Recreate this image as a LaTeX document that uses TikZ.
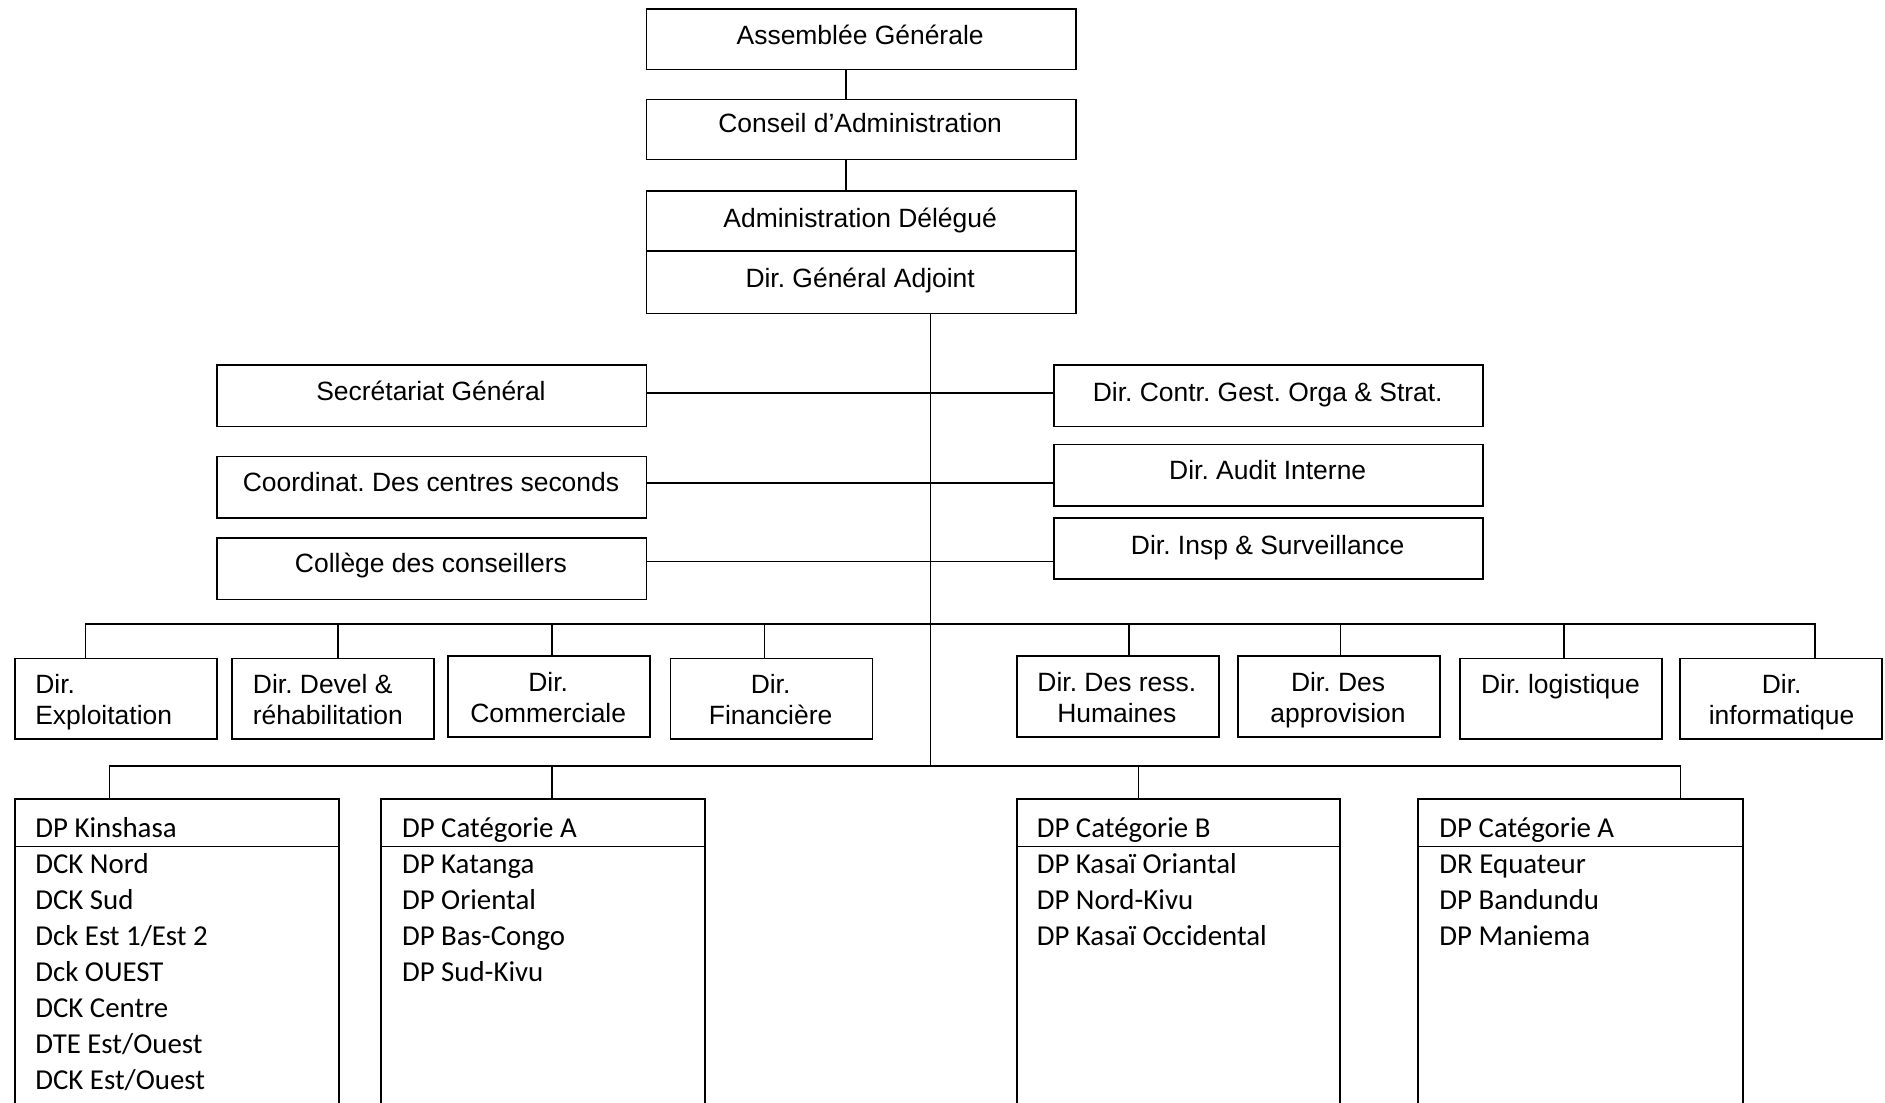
\documentclass[tikz,border=0pt]{standalone}
\usepackage{fontspec}
\setmainfont{Liberation Sans}
\newfontfamily\calib{Carlito}
\frenchspacing
\begin{document}
\begin{tikzpicture}[x=0.5pt,y=-0.5pt,
  box/.style={draw, line width=0.75pt, inner sep=0pt, anchor=north west},
  ln/.style={line width=0.7pt},
  ar/.style={font=\fontsize{11}{13}\selectfont, inner sep=0pt, anchor=base},
  arl/.style={ar, anchor=base west},
  cal/.style={font=\calib\fontsize{12}{14}\selectfont, inner sep=0pt, anchor=base west}]
\useasboundingbox (0,0) rectangle (1568,917);
\clip (0,0) rectangle (1568,917);
\newcommand\bx[5]{\node[box, minimum width=#4*0.5pt, minimum height=#5*0.5pt] (#1) at (#2,#3) {};}
% top
\bx{ag}{537}{7}{357}{50}
\bx{ca}{537}{82}{357}{50}
\bx{ad}{537}{158}{357}{102}
\draw[ln] (ad.west |- 0,209) -- (ad.east |- 0,209);
\node[ar] (tag) at (715.5,37) {Assemblée Générale};
\node[ar] (tca) at (715.5,110) {Conseil d’Administration};
\node[ar] (tad) at (715.5,189) {Administration Délégué};
\node[ar] (tdga) at (715.5,239) {Dir. Général Adjoint};
\draw[ln] (ag.south -| 704,0) -- (ca.north -| 704,0);
\draw[ln] (ca.south -| 704,0) -- (ad.north -| 704,0);
% staff
\bx{sg}{180}{303}{357}{51}
\bx{cc}{180}{379}{357}{51}
\bx{cl}{180}{447}{357}{51}
\bx{dc}{876}{303}{357}{51}
\bx{da}{876}{369}{357}{51}
\bx{di}{876}{430}{357}{51}
\node[ar] (tsg) at (358.5,333) {Secrétariat Général};
\node[ar] (tcc) at (358.5,409) {Coordinat. Des centres seconds};
\node[ar] (tcl) at (358.5,476) {Collège des conseillers};
\node[ar] (tdc) at (1054.5,334) {Dir. Contr. Gest. Orga \& Strat.};
\node[ar] (tda) at (1054.5,399) {Dir. Audit Interne};
\node[ar] (tdi) at (1054.5,461) {Dir. Insp \& Surveillance};
\draw[ln] (sg.east |- 0,327) -- (dc.west |- 0,327);
\draw[ln] (cc.east |- 0,402) -- (da.west |- 0,402);
\draw[ln] (cl.east |- 0,467) -- (di.west |- 0,467);
% trunk
\coordinate (busA) at (774,519);
\coordinate (busB) at (774,637);
\coordinate (busAl) at (71,519);
\coordinate (busAr) at (1510,519);
\coordinate (busBl) at (91,637);
\coordinate (busBr) at (1398,637);
\draw[ln] (ad.south -| 774,0) -- (busB);
% directors
\bx{d1}{12}{547}{168}{67}
\bx{d2}{192}{547}{168}{67}
\bx{d3}{372}{545}{168}{67}
\bx{d4}{557}{547}{168}{67}
\bx{d5}{845}{545}{168}{67}
\bx{d6}{1029}{545}{168}{67}
\bx{d7}{1214}{547}{168}{67}
\bx{d8}{1397}{547}{168}{67}
\node[arl] (t1a) at (29,577) {Dir.};
\node[arl] (t1b) at (29,603) {Exploitation};
\node[arl] (t2a) at (210,577) {Dir. Devel \&};
\node[arl] (t2b) at (210,603) {réhabilitation};
\node[ar] (t3a) at (456,575) {Dir.};
\node[ar] (t3b) at (456,601) {Commerciale};
\node[ar] (t4a) at (641,577) {Dir.};
\node[ar] (t4b) at (641,603) {Financière};
\node[ar] (t5a) at (929,575) {Dir. Des ress.};
\node[ar] (t5b) at (929,601) {Humaines};
\node[ar] (t6a) at (1113,575) {Dir. Des};
\node[ar] (t6b) at (1113,601) {approvision};
\node[ar] (t7a) at (1298,577) {Dir. logistique};
\node[ar] (t8a) at (1482,577) {Dir.};
\node[ar] (t8b) at (1482,603) {informatique};
\draw[ln] (d1.north -| busAl) -- (busAl) -- (busAr) -- (d8.north -| busAr);
\foreach \n/\x in {d2/281,d3/459,d4/636,d5/939,d6/1115,d7/1301}
  \draw[ln] (\n.north -| \x,0) -- (\x,519);
% provinces
\bx{p1}{12}{664}{269}{300}
\bx{p2}{316}{664}{270}{300}
\bx{p3}{845}{664}{269}{300}
\bx{p4}{1179}{664}{270}{300}
\foreach \n in {p1,p2,p3,p4}
  \draw[ln] (\n.west |- 0,704) -- (\n.east |- 0,704);
\draw[ln] (p1.north -| busBl) -- (busBl) -- (busBr) -- (p4.north -| busBr);
\foreach \n/\x in {p2/459,p3/947}
  \draw[ln] (\n.north -| \x,0) -- (\x,637);
\foreach \t [count=\i from 0] in {DP Kinshasa,DCK Nord,DCK Sud,Dck Est 1/Est 2,Dck OUEST,DCK Centre,DTE Est/Ouest,DCK Est/Ouest}
  \node[cal] (k\i) at (29,697+29.85*\i) {\t};
\foreach \t [count=\i from 0] in {DP Catégorie A,DP Katanga,DP Oriental,DP Bas-Congo,DP Sud-Kivu}
  \node[cal] (a\i) at (334,697+29.85*\i) {\t};
\foreach \t [count=\i from 0] in {DP Catégorie B,DP Kasaï Oriantal,DP Nord-Kivu,DP Kasaï Occidental}
  \node[cal] (b\i) at (862,697+29.85*\i) {\t};
\foreach \t [count=\i from 0] in {DP Catégorie A,DR Equateur,DP Bandundu,DP Maniema}
  \node[cal] (c\i) at (1197,697+29.85*\i) {\t};
\end{tikzpicture}
\end{document}
